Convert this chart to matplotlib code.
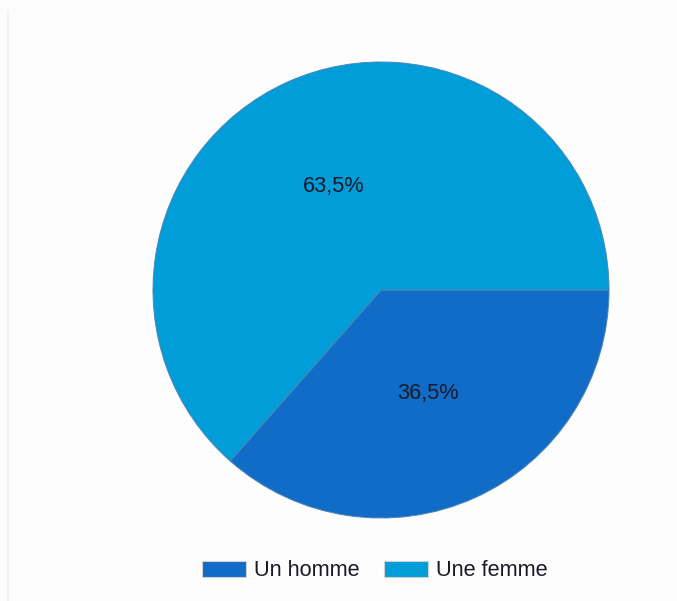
import matplotlib
matplotlib.use("Agg")
import matplotlib.pyplot as plt
from matplotlib.lines import Line2D
from matplotlib.patches import Patch

categories = ["Un homme", "Une femme"]
values = [36.5, 63.5]
colors = ["#106CC6", "#009DD8"]

plt.rcParams['font.family'] = ['Liberation Sans', 'DejaVu Sans']

W, H = 677, 601
fig = plt.figure(figsize=(W / 100, H / 100), dpi=100)
fig.patch.set_facecolor("#FDFDFD")

cx, cy, r = 381, 290, 228
ax = fig.add_axes([(cx - r) / W, (H - cy - r) / H, 2 * r / W, 2 * r / H])
wedges, texts, autotexts = ax.pie(
    values, colors=colors, startangle=0, counterclock=False,
    autopct=lambda p: f"{p:.1f}%".replace(".", ","), pctdistance=0.5,
    wedgeprops=dict(edgecolor="#4d86b5", linewidth=0.7),
    textprops=dict(fontsize=15.7, color="#1a1a2a"))
ax.set_xlim(-1.0, 1.0)
ax.set_ylim(-1.0, 1.0)
ax.set_aspect("equal")
ax.axis("off")

handles = [Patch(facecolor=c, edgecolor="#d0d0d0", linewidth=0.8) for c in colors]
fig.legend(handles, categories, loc="center", bbox_to_anchor=(375 / W, 1 - 571 / H),
           ncol=2, frameon=False, fontsize=15.7, handlelength=2.0, handleheight=0.75,
           handletextpad=0.38, columnspacing=1.1, labelcolor="#1a1a2a")

fig.add_artist(Line2D([7.5 / W, 7.5 / W], [0, 1 - 11 / H], color="#edf5ec", linewidth=1.5))

fig.savefig("out.png", dpi=100, facecolor=fig.get_facecolor())
